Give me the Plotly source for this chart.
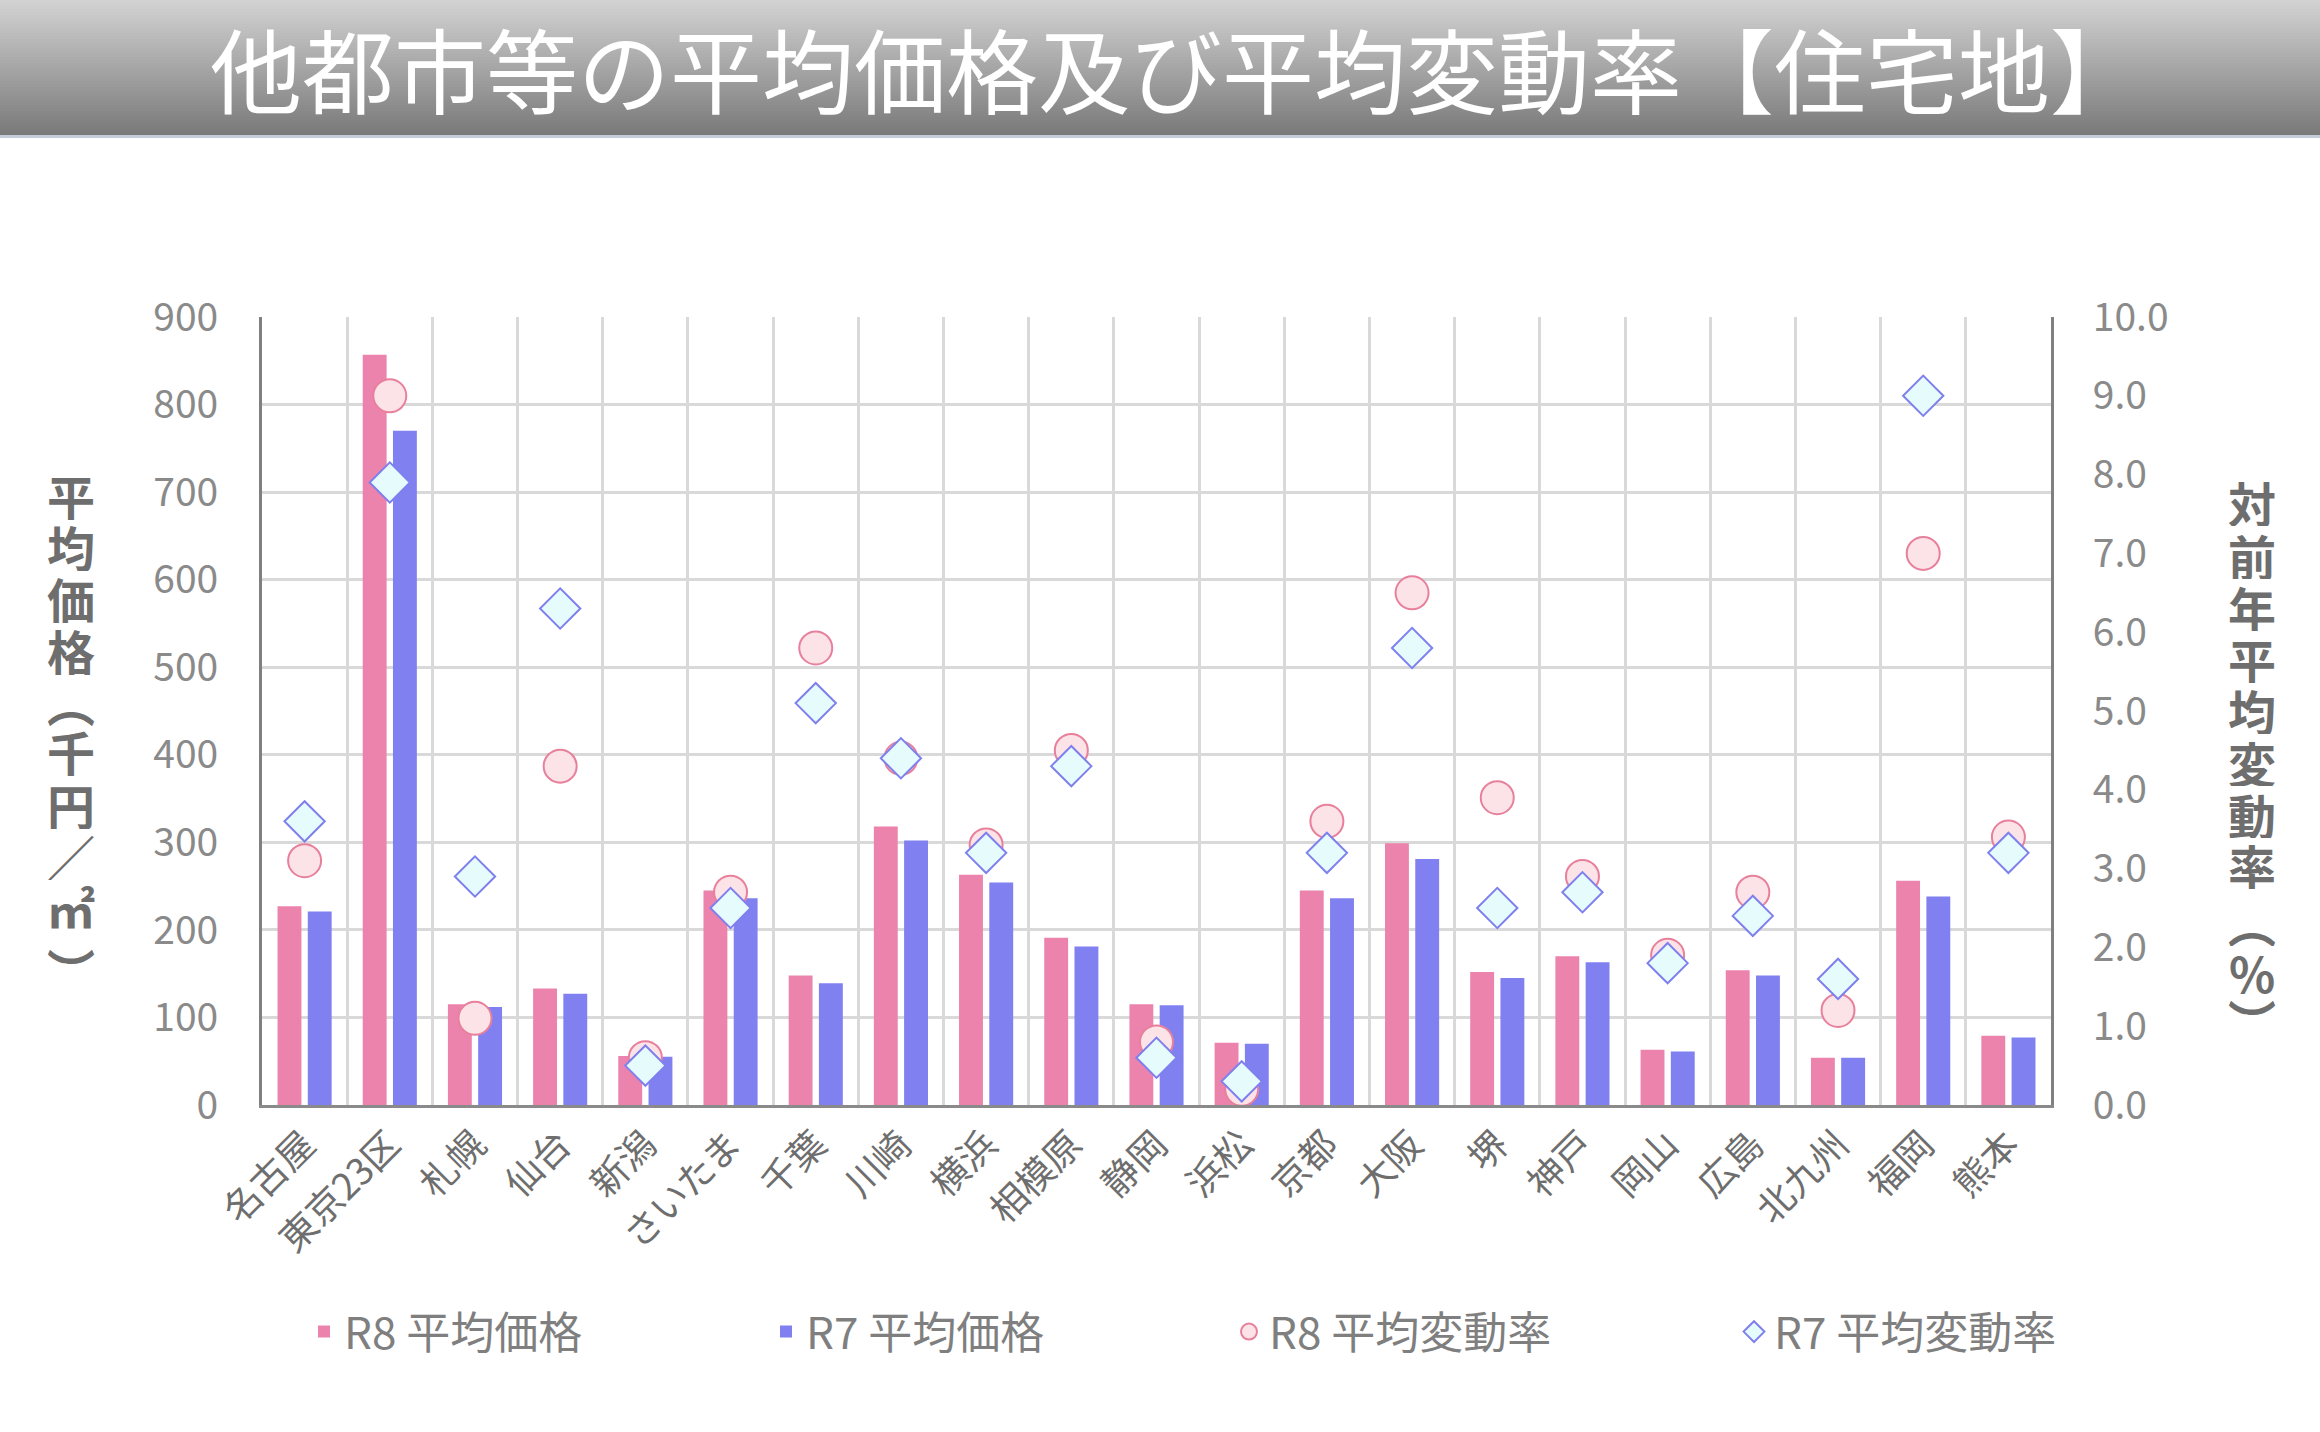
import plotly.graph_objects as go

# ---------------- data ----------------
categories = ["名古屋", "東京23区", "札幌", "仙台", "新潟", "さいたま", "千葉", "川崎", "横浜", "相模原",
              "静岡", "浜松", "京都", "大阪", "堺", "神戸", "岡山", "広島", "北九州", "福岡", "熊本"]
price_r8 = [227, 857, 115, 133, 56, 245, 148, 318, 263, 191, 115, 71, 245, 299, 152, 170, 63, 154, 54, 256, 79]
price_r7 = [221, 770, 112, 127, 55, 236, 139, 302, 254, 181, 114, 70, 236, 281, 145, 163, 61, 148, 54, 238, 77]
rate_r8 = [3.1, 9.0, 1.1, 4.3, 0.6, 2.7, 5.8, 4.4, 3.3, 4.5, 0.8, 0.2, 3.6, 6.5, 3.9, 2.9, 1.9, 2.7, 1.2, 7.0, 3.4]
rate_r7 = [3.6, 7.9, 2.9, 6.3, 0.5, 2.5, 5.1, 4.4, 3.2, 4.3, 0.6, 0.3, 3.2, 5.8, 2.5, 2.7, 1.8, 2.4, 1.6, 9.0, 3.2]

series_names = ["R8 平均価格", "R7 平均価格", "R8 平均変動率", "R7 平均変動率"]
title_text = "他都市等の平均価格及び平均変動率【住宅地】"
left_title = ["平", "均", "価", "格", "︵", "千", "円", "／", "㎡", "︶"]
right_title = ["対", "前", "年", "平", "均", "変", "動", "率", "︵", "%", "︶"]

# ---------------- layout helpers ----------------
W, H = 2320, 1432
L, R, T, B = 262, 2051, 317, 1105
FONT = "Noto Sans CJK JP"


def px(x):
    return (x - L) / (R - L)


def py(y):
    return (B - y) / (B - T)


fig = go.Figure()
fig.add_trace(go.Bar(x=categories, y=price_r8, name=series_names[0], legend="legend",
                     marker=dict(color="#ec83ad", line=dict(width=0))))
fig.add_trace(go.Bar(x=categories, y=price_r7, name=series_names[1], legend="legend2",
                     marker=dict(color="#8080f0", line=dict(width=0))))
fig.add_trace(go.Scatter(x=categories, y=rate_r8, name=series_names[2], yaxis="y2", mode="markers",
                         legend="legend3",
                         marker=dict(symbol="circle", size=33, color="#fbe3e7",
                                     line=dict(color="#e8809c", width=2))))
fig.add_trace(go.Scatter(x=categories, y=rate_r7, name=series_names[3], yaxis="y2", mode="markers",
                         legend="legend4",
                         marker=dict(symbol="diamond", size=31, color="#e6fcfc",
                                     line=dict(color="#7f80ee", width=2))))

shapes = []
# banner gradient
n = 45
top_c, bot_c = (210, 210, 210), (122, 122, 122)
bh = 135
for i in range(n):
    t = i / (n - 1)
    c = tuple(round(top_c[k] + (bot_c[k] - top_c[k]) * t) for k in range(3))
    y0 = bh * i / n
    y1 = bh * (i + 1) / n + 0.6
    shapes.append(dict(type="rect", xref="paper", yref="paper", layer="below",
                       x0=px(0), x1=px(W), y0=py(y1), y1=py(y0),
                       fillcolor="rgb(%d,%d,%d)" % c, line=dict(width=0)))
shapes.append(dict(type="line", xref="paper", yref="paper", x0=px(0), x1=px(W),
                   y0=py(bh + 1.5), y1=py(bh + 1.5), line=dict(color="#c5ced8", width=3)))

annotations = [
    dict(text=title_text, xref="paper", yref="paper", x=px(1176), y=py(66),
         showarrow=False, font=dict(family=FONT, size=92, color="white"),
         xanchor="center", yanchor="middle"),
]

# vertical axis titles, one character per annotation
left_y = [495, 546, 598, 650, 701, 751, 804, 855, 907, 969]
right_y = [502, 555, 607, 659, 710, 762, 814, 865, 922, 972, 1020]
title_font = dict(family=FONT, size=48, color="#6e6e6e", weight="bold")
for ch, yy in zip(left_title, left_y):
    annotations.append(dict(text=ch, xref="paper", yref="paper", x=px(71), y=py(yy),
                            showarrow=False, font=title_font, xanchor="center", yanchor="middle",
                            height=50))
for ch, yy in zip(right_title, right_y):
    annotations.append(dict(text=ch, xref="paper", yref="paper", x=px(2252), y=py(yy),
                            showarrow=False, font=title_font, xanchor="center", yanchor="middle",
                            height=48))

leg_common = dict(orientation="h", xref="container", yref="container", xanchor="left",
                  yanchor="middle", y=1 - 1332 / H, bgcolor="rgba(0,0,0,0)",
                  font=dict(family=FONT, size=44, color="#7f7f7f"))
leg_x = [304, 766, 1229, 1734]

fig.update_layout(
    width=W, height=H,
    margin=dict(l=L, r=W - R, t=T, b=H - B, pad=0),
    paper_bgcolor="white", plot_bgcolor="white",
    barmode="group", bargap=0.29, bargroupgap=0.21,
    font=dict(family=FONT, color="#7f7f7f"),
    showlegend=True,
    legend=dict(x=leg_x[0] / W, **leg_common),
    legend2=dict(x=leg_x[1] / W, **leg_common),
    legend3=dict(x=leg_x[2] / W, **leg_common),
    legend4=dict(x=leg_x[3] / W, **leg_common),
    xaxis=dict(type="category", range=[-0.5, len(categories) - 0.5], tickson="boundaries",
               showgrid=True, gridcolor="#d9d9d9", gridwidth=3,
               showline=True, linecolor="#8a8a8a", linewidth=3, ticks="", tickangle=-45,
               tickfont=dict(family=FONT, size=37, color="#6e6e6e"), ticklabelstandoff=0),
    yaxis=dict(range=[0, 900], dtick=100, showgrid=True, gridcolor="#d9d9d9", gridwidth=3,
               showline=True, linecolor="#808080", linewidth=3, zeroline=False, ticks="",
               tickfont=dict(family=FONT, size=39, color="#8a8a8a"), ticklabelstandoff=33),
    yaxis2=dict(range=[0, 10], dtick=1, tickformat=".1f", overlaying="y", side="right",
                showgrid=False, showline=True, linecolor="#808080", linewidth=3, zeroline=False,
                ticks="", tickfont=dict(family=FONT, size=39, color="#8a8a8a"), ticklabelstandoff=31),
    shapes=shapes,
    annotations=annotations,
)

fig.write_html("out.html")
